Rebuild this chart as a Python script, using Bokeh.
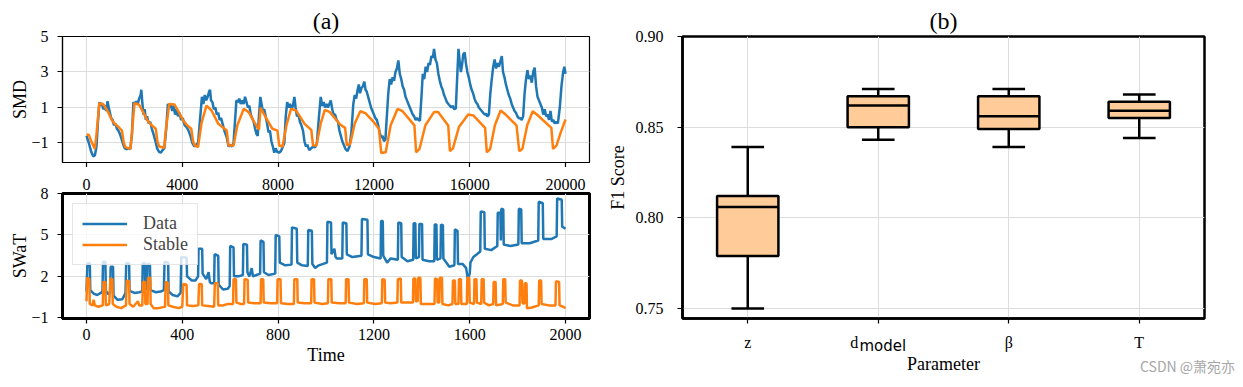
from bokeh.plotting import figure
from bokeh.layouts import row, column
from bokeh.models import FixedTicker, Range1d, LinearAxis
from bokeh.embed import file_html
from bokeh.resources import INLINE

SERIF = "Liberation Serif"
BLUE = "#1f77b4"
ORANGE = "#ff7f0e"

# ---------------- data ----------------
smd_data_pts = [
    (0, -0.6), (100, -1.0), (200, -1.5), (280, -1.75), (350, -1.7), (420, -1.2), (480, 0.2), (540, 1.3),
    (600, 1.1), (650, 1.25), (700, 0.9), (760, 1.1), (820, 0.8), (880, 1.35), (930, 1.0), (980, 0.7),
    (1030, 0.4), (1090, 0.3), (1150, 0.0), (1210, 0.1), (1270, -0.2), (1330, -0.3), (1400, -0.5),
    (1470, -0.8), (1540, -1.1), (1600, -1.3), (1680, -1.35), (1760, -1.3), (1830, -1.35), (1900, -0.5),
    (1960, 1.3), (2020, 1.2), (2080, 1.35), (2140, 1.2), (2200, 1.5), (2260, 1.7), (2290, 2.0), (2330, 1.3),
    (2380, 0.6), (2430, 0.9), (2480, 0.3), (2530, 0.5), (2600, 0.1), (2660, 0.2), (2730, -0.2), (2800, -0.5),
    (2880, -0.9), (2950, -1.3), (3030, -1.5), (3100, -1.55), (3180, -1.4), (3250, -1.3), (3330, -0.2),
    (3400, 1.2), (3460, 1.0), (3520, 1.15), (3580, 0.8), (3640, 1.1), (3700, 0.6), (3760, 0.9), (3820, 0.5),
    (3880, 0.7), (3950, 0.3), (4020, 0.4), (4100, 0.0), (4180, -0.1), (4260, -0.3), (4340, -0.6),
    (4420, -1.0), (4500, -1.2), (4580, -1.1), (4660, -1.0), (4740, 0.3), (4820, 1.6), (4880, 1.2),
    (4940, 1.7), (5000, 1.4), (5060, 1.6), (5120, 1.9), (5160, 2.0), (5200, 1.4), (5260, 1.3), (5320, 0.9),
    (5380, 1.0), (5440, 0.6), (5500, 0.7), (5560, 0.3), (5620, 0.4), (5700, 0.0), (5780, -0.4), (5860, -0.7),
    (5930, -1.2), (6000, -1.1), (6080, -1.2), (6140, -1.0), (6200, 0.2), (6260, 1.4), (6320, 1.3),
    (6380, 1.5), (6440, 1.2), (6500, 1.4), (6560, 1.2), (6620, 1.6), (6680, 1.3), (6740, 1.0), (6800, 1.1),
    (6860, 0.6), (6920, 0.4), (6980, 0.2), (7040, -0.2), (7100, -0.5), (7150, -0.6), (7200, 0.5),
    (7260, 1.6), (7310, 1.2), (7360, 0.8), (7420, 0.9), (7480, 0.5), (7540, 0.1), (7600, -0.4),
    (7660, -0.3), (7720, -0.9), (7780, -1.2), (7840, -1.55), (7900, -1.3), (7960, -1.5), (8040, -1.55),
    (8120, -1.45), (8200, -1.2), (8260, -1.0), (8320, 0.5), (8380, 1.3), (8440, 1.0), (8500, 1.2),
    (8560, 0.9), (8620, 1.1), (8680, 1.6), (8730, 1.0), (8790, 0.5), (8850, 0.6), (8910, 0.2), (8970, 0.0),
    (9040, -0.3), (9100, -0.9), (9160, -1.2), (9220, -1.1), (9300, -1.4), (9380, -1.3), (9460, -1.2),
    (9540, -1.25), (9620, -1.0), (9700, 0.4), (9780, 1.6), (9840, 1.1), (9900, 1.3), (9960, 1.0),
    (10020, 1.2), (10080, 1.0), (10140, 1.2), (10200, 1.4), (10260, 0.9), (10320, 0.6), (10380, 0.6),
    (10440, 0.3), (10500, 0.2), (10560, -0.3), (10620, -0.6), (10680, -0.9), (10740, -1.1), (10820, -1.35),
    (10900, -1.45), (10980, -1.2), (11060, -0.4), (11140, 1.2), (11200, 1.7), (11260, 1.5), (11320, 2.0),
    (11370, 2.3), (11420, 1.8), (11480, 2.1), (11540, 2.2), (11600, 2.45), (11650, 2.0), (11700, 1.9),
    (11760, 1.6), (11820, 1.3), (11880, 1.0), (11940, 0.8), (12000, 0.6), (12060, 0.4), (12120, 0.3),
    (12180, 0.0), (12240, -0.4), (12300, -0.7), (12360, -0.6), (12420, -0.9), (12480, -0.8), (12540, 0.5),
    (12600, 1.8), (12660, 2.6), (12720, 2.3), (12780, 2.7), (12840, 2.5), (12900, 3.0), (12960, 3.2),
    (13020, 3.65), (13080, 2.9), (13140, 2.6), (13200, 2.2), (13260, 2.0), (13320, 1.6), (13380, 1.4),
    (13440, 1.2), (13500, 1.0), (13560, 0.8), (13620, 0.6), (13680, 0.5), (13740, 0.3), (13800, 0.4),
    (13860, 0.3), (13920, 0.25), (13980, 1.5), (14040, 2.9), (14100, 2.6), (14160, 3.3), (14220, 3.0),
    (14280, 3.5), (14340, 3.4), (14400, 3.9), (14460, 3.8), (14510, 4.3), (14570, 3.7), (14630, 3.5),
    (14690, 2.9), (14750, 2.5), (14810, 2.2), (14870, 2.0), (14930, 1.7), (14990, 1.5), (15050, 1.3),
    (15110, 1.2), (15170, 1.1), (15230, 1.0), (15290, 1.1), (15350, 0.9), (15420, 0.95), (15470, 2.5),
    (15530, 4.3), (15580, 3.6), (15630, 3.0), (15680, 3.4), (15730, 4.0), (15790, 4.1), (15840, 3.5),
    (15900, 3.0), (15960, 2.7), (16020, 2.3), (16080, 2.0), (16140, 1.8), (16200, 1.5), (16260, 1.3),
    (16320, 1.2), (16380, 1.0), (16440, 0.9), (16500, 0.8), (16560, 0.7), (16620, 0.6), (16680, 0.65),
    (16740, 0.5), (16800, 0.6), (16860, 1.8), (16920, 2.6), (16980, 3.3), (17040, 3.7), (17100, 3.2),
    (17160, 3.5), (17220, 3.3), (17280, 3.6), (17340, 3.9), (17390, 3.0), (17450, 2.7), (17510, 2.3),
    (17570, 2.0), (17630, 1.7), (17690, 1.5), (17750, 1.2), (17810, 1.0), (17870, 0.8), (17930, 0.7),
    (17990, 0.5), (18050, 0.4), (18110, 0.4), (18170, 0.3), (18230, 0.5), (18290, 1.8), (18350, 2.6),
    (18410, 3.1), (18470, 2.6), (18530, 2.8), (18590, 2.4), (18650, 3.0), (18710, 3.25), (18770, 2.2),
    (18830, 1.6), (18890, 1.4), (18950, 1.2), (19010, 1.0), (19070, 0.6), (19130, 0.9), (19190, 0.5),
    (19250, 0.6), (19310, 0.3), (19370, 0.8), (19430, 0.2), (19490, 0.3), (19550, 0.1), (19610, 0.2),
    (19680, 0.1), (19760, 1.0), (19830, 2.2), (19900, 3.0), (19950, 3.3), (20000, 2.9),
]

smd_stable_pts = [
    (0, -0.52), (100, -0.55), (200, -0.9), (353, -1.33), (420, -0.5), (536, 1.24), (706, 1.17), (880, 0.8),
    (1059, 0.3), (1200, 0.05), (1341, -0.1), (1480, -0.3), (1560, -1.0), (1623, -1.23), (1835, -1.33),
    (1900, -0.4), (2004, 1.24), (2188, 1.17), (2360, 0.75), (2541, 0.27), (2720, 0.0), (2894, -0.2),
    (2960, -0.9), (3034, -1.2), (3246, -1.27), (3320, -0.2), (3458, 1.2), (3670, 1.17), (3850, 0.75),
    (4023, 0.3), (4200, 0.0), (4376, -0.2), (4450, -0.9), (4517, -1.14), (4658, -1.23), (4800, 0.1),
    (5011, 1.11), (5222, 0.83), (5505, 0.08), (5858, -0.3), (5928, -1.14), (6140, -1.14), (6300, 0.0),
    (6563, 0.92), (6775, 0.74), (6950, 0.3), (7128, -0.1), (7200, -0.25), (7269, 0.98), (7481, 0.45),
    (7763, -0.2), (7974, -0.3), (8045, -1.14), (8186, -1.2), (8350, 0.0), (8539, 0.92), (8751, 0.83),
    (9104, 0.08), (9386, -0.26), (9457, -1.14), (9598, -1.14), (9780, 0.1), (9951, 0.87), (10163, 0.74),
    (10586, 0.04), (10798, -0.15), (10868, -1.14), (11009, -1.05), (11200, 0.1), (11433, 0.79),
    (11645, 0.68), (11998, 0.17), (12209, -0.2), (12308, -1.57), (12491, -1.52), (12700, 0.0),
    (12985, 0.92), (13197, 0.79), (13691, -0.01), (13761, -1.52), (13900, -1.35), (14150, 0.0),
    (14509, 0.74), (14679, 0.74), (15102, -0.01), (15173, -1.46), (15300, -1.3), (15550, -0.1),
    (15935, 0.6), (16147, 0.55), (16641, -0.15), (16712, -1.52), (16850, -1.35), (17050, 0.0),
    (17290, 0.83), (17500, 0.6), (17953, -0.01), (18066, -1.46), (18200, -1.33), (18400, 0.0),
    (18631, 0.79), (18850, 0.55), (19407, -0.15), (19478, -1.33), (19620, -1.15), (19800, -0.4),
    (20000, 0.32),
]

swat_data_pts = [
    (0, 0.9), (4, 2.95), (14, 2.95), (16, 1.0), (30, 0.75), (45, 0.65), (60, 0.8), (67, 0.9), (69, 3.05),
    (79, 3.05), (81, 0.95), (92, 0.7), (99, 0.8), (101, 2.7), (111, 2.7), (113, 0.6), (130, 0.3), (150, 0.35),
    (163, 0.8), (166, 2.95), (178, 2.95), (180, 0.95), (200, 0.8), (220, 0.85), (233, 0.9), (235, 2.95),
    (244, 2.95), (246, 1.0), (253, 1.2), (255, 2.9), (265, 2.9), (267, 1.0), (290, 0.85), (310, 0.9),
    (323, 1.0), (326, 3.05), (341, 3.0), (343, 0.9), (360, 0.65), (380, 0.55), (393, 0.8), (396, 3.4),
    (418, 3.35), (420, 2.0), (440, 1.7), (455, 1.7), (466, 2.0), (468, 4.0), (483, 4.0), (485, 2.2),
    (500, 1.8), (510, 2.3), (515, 1.6), (520, 1.5), (533, 1.5), (535, 3.6), (550, 3.5), (552, 1.4),
    (570, 1.05), (590, 1.1), (598, 1.3), (600, 4.2), (614, 4.1), (616, 2.0), (635, 2.0), (653, 2.1),
    (655, 4.35), (670, 4.3), (672, 2.3), (680, 2.0), (690, 2.6), (695, 2.0), (710, 2.1), (725, 2.2),
    (727, 4.6), (739, 4.5), (741, 2.3), (760, 2.1), (788, 2.2), (790, 5.0), (805, 4.9), (807, 3.0),
    (830, 2.8), (856, 2.85), (858, 5.55), (878, 5.45), (880, 3.0), (900, 2.8), (924, 2.75), (926, 5.35),
    (941, 5.3), (943, 2.9), (955, 2.6), (970, 2.8), (1004, 3.0), (1006, 5.95), (1021, 5.9), (1023, 3.6),
    (1035, 4.0), (1040, 3.4), (1045, 3.3), (1068, 3.3), (1070, 5.9), (1085, 5.85), (1087, 3.6),
    (1110, 3.4), (1148, 3.5), (1150, 6.15), (1173, 6.1), (1175, 3.6), (1200, 3.4), (1228, 3.3),
    (1230, 6.0), (1237, 6.0), (1239, 3.5), (1255, 3.0), (1270, 3.3), (1300, 3.2), (1302, 5.9),
    (1314, 5.85), (1316, 3.4), (1340, 3.1), (1364, 3.2), (1366, 5.85), (1373, 5.85), (1375, 3.3),
    (1388, 3.4), (1390, 5.8), (1401, 5.8), (1403, 3.2), (1430, 3.1), (1452, 3.1), (1454, 5.75),
    (1461, 5.75), (1463, 3.2), (1478, 3.3), (1480, 5.75), (1488, 5.7), (1490, 3.3), (1515, 2.7),
    (1536, 2.8), (1538, 5.4), (1549, 5.3), (1551, 2.9), (1570, 2.9), (1585, 2.6), (1592, 1.8),
    (1600, 2.2), (1603, 3.0), (1615, 3.4), (1630, 3.6), (1644, 3.8), (1646, 6.7), (1661, 6.65),
    (1663, 4.0), (1690, 3.9), (1715, 4.2), (1717, 6.6), (1728, 6.6), (1730, 4.6), (1732, 6.9),
    (1740, 6.85), (1742, 4.3), (1770, 4.2), (1803, 4.3), (1805, 6.9), (1815, 6.85), (1817, 4.4),
    (1850, 4.4), (1886, 4.6), (1888, 7.4), (1905, 7.3), (1907, 4.7), (1940, 4.7), (1963, 4.9),
    (1965, 7.65), (1984, 7.55), (1986, 5.6), (2000, 5.45),
]

swat_stable_pts = [
    (0, 0.2), (3, 1.9), (12, 1.8), (14, 0.0), (25, -0.1), (30, 0.3), (35, -0.1), (50, -0.2), (68, -0.1),
    (71, 1.6), (79, 1.6), (81, -0.1), (95, 0.0), (100, 1.85), (108, 1.8), (110, 0.0), (125, -0.2),
    (145, -0.3), (165, -0.1), (168, 1.7), (178, 1.65), (180, 0.0), (195, -0.2), (215, 0.2), (220, -0.1),
    (233, -0.1), (236, 1.6), (244, 1.6), (246, 0.0), (255, 0.0), (257, 1.9), (266, 1.9), (268, 0.0),
    (280, -0.3), (300, -0.3), (328, -0.2), (331, 1.6), (340, 1.55), (342, -0.1), (360, -0.2), (385, -0.3),
    (400, -0.2), (404, 1.45), (418, 1.4), (420, -0.1), (445, -0.15), (467, -0.1), (470, 1.45), (481, 1.45),
    (483, -0.1), (510, -0.15), (533, -0.2), (536, 1.5), (548, 1.5), (550, -0.1), (570, -0.1), (590, 0.0),
    (612, 0.0), (614, 1.8), (624, 1.8), (626, 0.1), (645, 0.0), (658, 0.0), (660, 1.8), (673, 1.75),
    (675, 0.1), (700, 0.05), (727, 0.05), (729, 1.8), (738, 1.8), (740, 0.1), (770, 0.05), (796, 0.05),
    (798, 1.8), (810, 1.8), (812, 0.05), (840, 0.0), (866, 0.0), (868, 1.8), (880, 1.8), (882, 0.1),
    (910, 0.05), (938, 0.05), (940, 1.8), (950, 1.8), (952, 0.1), (985, 0.0), (1008, 0.05), (1010, 1.8),
    (1022, 1.8), (1024, 0.1), (1055, 0.05), (1082, 0.05), (1084, 1.8), (1094, 1.8), (1096, 0.1),
    (1130, 0.0), (1158, 0.05), (1160, 1.8), (1170, 1.8), (1172, 0.1), (1205, 0.0), (1233, 0.05),
    (1235, 1.8), (1245, 1.75), (1247, 0.1), (1270, 0.05), (1298, 0.1), (1300, 1.8), (1312, 1.85),
    (1314, 0.1), (1340, 0.1), (1363, 0.1), (1365, 1.85), (1373, 1.85), (1375, 0.2), (1383, 0.2),
    (1385, 1.9), (1394, 1.9), (1396, 0.0), (1425, 0.0), (1453, 0.0), (1455, 1.85), (1464, 1.8),
    (1466, 0.1), (1473, 0.1), (1475, 1.9), (1484, 1.9), (1486, 0.0), (1510, -0.1), (1528, 0.0),
    (1530, 1.7), (1538, 1.7), (1540, 0.0), (1553, 0.0), (1555, 1.8), (1563, 1.8), (1565, 0.0),
    (1588, 0.0), (1590, 1.9), (1598, 1.9), (1600, 0.1), (1618, 0.0), (1620, 1.8), (1628, 1.8),
    (1630, 0.1), (1648, 0.0), (1650, 1.8), (1658, 1.8), (1660, 0.1), (1680, -0.1), (1698, 0.0),
    (1700, 1.6), (1708, 1.6), (1710, -0.1), (1738, 0.0), (1740, 1.8), (1748, 1.8), (1750, 0.1),
    (1780, -0.1), (1808, -0.1), (1810, 1.7), (1818, 1.7), (1820, 0.1), (1828, 0.0), (1830, 1.5),
    (1837, 1.5), (1839, -0.3), (1860, -0.25), (1888, -0.1), (1890, 1.7), (1898, 1.7), (1900, 0.0),
    (1930, -0.1), (1958, -0.1), (1960, 1.65), (1973, 1.6), (1975, -0.1), (1990, -0.2), (2000, -0.3),
]

smd_xticks = [0, 4000, 8000, 12000, 16000, 20000]
smd_yticks = [-1, 1, 3, 5]
swat_xticks = [0, 400, 800, 1200, 1600, 2000]
swat_yticks = [-1, 2, 5, 8]

params = ["z", "d", "β", "T"]
param_sub = "model"
param_pos = [1, 2, 3, 4]
whisker_low = [0.750, 0.843, 0.839, 0.844]
q1 = [0.779, 0.850, 0.849, 0.855]
median = [0.806, 0.862, 0.856, 0.859]
q3 = [0.812, 0.867, 0.867, 0.864]
whisker_high = [0.839, 0.871, 0.871, 0.868]
f1_ticks = [0.75, 0.80, 0.85, 0.90]
watermark = "CSDN @萧宛亦"


def unzip(pts):
    return [a for a, _ in pts], [b for _, b in pts]


def style_axis(ax, frame_w):
    ax.axis_line_color = "black"
    ax.axis_line_width = frame_w
    ax.major_tick_line_color = "black"
    ax.major_tick_line_width = 1.2
    ax.major_tick_out = 5
    ax.major_tick_in = 0
    ax.minor_tick_line_color = None
    ax.major_label_text_font = SERIF
    ax.major_label_text_font_size = "16px"
    ax.major_label_text_color = "black"
    ax.axis_label_text_font = SERIF
    ax.axis_label_text_font_size = "18px"
    ax.axis_label_text_font_style = "normal"
    ax.axis_label_text_color = "black"


def style(p, frame_w):
    p.outline_line_color = "black"
    p.outline_line_width = frame_w
    p.outline_line_alpha = 1.0
    p.background_fill_color = "white"
    p.border_fill_color = "white"
    for ax in p.axis:
        style_axis(ax, frame_w)
    p.grid.grid_line_color = "#dddddd"
    p.grid.grid_line_width = 1
    if p.title is not None and p.title.text:
        p.title.align = "center"
        p.title.text_font = SERIF
        p.title.text_font_size = "24px"
        p.title.text_font_style = "normal"
        p.title.text_color = "black"
        p.title.standoff = 6


def bare_axis(ax):
    ax.axis_line_color = None
    ax.major_tick_line_color = None
    ax.minor_tick_line_color = None
    ax.major_tick_out = 0
    ax.major_tick_in = 0


# ---------------- SMD ----------------
p1 = figure(width=604, height=167, x_range=Range1d(-1000, 21000), y_range=Range1d(-2.1, 5.0),
            output_backend="svg", toolbar_location=None, title="(a)",
            min_border_left=62, min_border_right=15, min_border_top=36, min_border_bottom=5)
t, v = unzip(smd_data_pts)
p1.line(t, v, color=BLUE, line_width=2.5)
t, v = unzip(smd_stable_pts)
p1.line(t, v, color=ORANGE, line_width=2.5)
p1.yaxis.ticker = FixedTicker(ticks=smd_yticks)
p1.yaxis.axis_label = "SMD"
style(p1, 1.2)
# tick marks only on the SMD time axis (its labels are shown by the axis above the SWaT panel)
p1.xaxis.ticker = FixedTicker(ticks=[], minor_ticks=smd_xticks)
p1.xaxis.minor_tick_line_color = "black"
p1.xaxis.minor_tick_line_width = 1.2
p1.xaxis.minor_tick_out = 5
p1.xaxis.minor_tick_in = 0
p1.xaxis.major_label_standoff = 0
p1.xgrid.ticker = FixedTicker(ticks=smd_xticks)
p1.yaxis.major_label_standoff = 9
p1.yaxis.axis_label_standoff = -2

# ---------------- SWaT ----------------
p2 = figure(width=604, height=220, x_range=Range1d(-100, 2100), y_range=Range1d(-1.05, 8.0),
            output_backend="svg", toolbar_location=None,
            min_border_left=62, min_border_right=15, min_border_top=26, min_border_bottom=69)
p2.extra_x_ranges = {"smd": Range1d(-1000, 21000)}
t, v = unzip(swat_data_pts)
p2.line(t, v, color=BLUE, line_width=2.5, legend_label="Data")
t, v = unzip(swat_stable_pts)
p2.line(t, v, color=ORANGE, line_width=2.5, legend_label="Stable")
p2.xaxis.ticker = FixedTicker(ticks=swat_xticks)
p2.yaxis.ticker = FixedTicker(ticks=swat_yticks)
p2.xaxis.axis_label = "Time"
p2.yaxis.axis_label = "SWaT"
style(p2, 3)
p2.xaxis.major_label_standoff = 5
p2.xaxis.axis_label_standoff = 2
p2.yaxis.major_label_standoff = 9
p2.yaxis.axis_label_standoff = -2
smd_lab_axis = LinearAxis(x_range_name="smd", ticker=FixedTicker(ticks=smd_xticks))
style_axis(smd_lab_axis, 1)
bare_axis(smd_lab_axis)
smd_lab_axis.major_label_standoff = 4
p2.add_layout(smd_lab_axis, "above")

lg = p2.legend[0]
lg.location = "top_left"
lg.margin = 10
lg.padding = 9
lg.spacing = 0
lg.label_text_font = SERIF
lg.label_text_font_size = "18px"
lg.label_height = 17
lg.glyph_height = 17
lg.glyph_width = 45
lg.label_standoff = 16
lg.border_line_color = "#cccccc"
lg.border_line_width = 1
lg.background_fill_alpha = 0.8

# ---------------- box plot ----------------
p3 = figure(width=639, height=387, x_range=Range1d(0.5, 4.5), y_range=Range1d(0.7445, 0.90),
            output_backend="svg", toolbar_location=None, title="(b)",
            min_border_left=74, min_border_right=39, min_border_top=36, min_border_bottom=69)
p3.segment(x0=param_pos, y0=q3, x1=param_pos, y1=whisker_high, line_color="black", line_width=2.5)
p3.segment(x0=param_pos, y0=q1, x1=param_pos, y1=whisker_low, line_color="black", line_width=2.5)
cap_l = [x - 0.125 for x in param_pos]
cap_r = [x + 0.125 for x in param_pos]
p3.segment(x0=cap_l, y0=whisker_high, x1=cap_r, y1=whisker_high, line_color="black", line_width=2.5)
p3.segment(x0=cap_l, y0=whisker_low, x1=cap_r, y1=whisker_low, line_color="black", line_width=2.5)
p3.vbar(x=param_pos, top=q3, bottom=q1, width=0.47, fill_color="#ffcc99", line_color="black",
        line_width=2.5)
med_l = [x - 0.235 for x in param_pos]
med_r = [x + 0.235 for x in param_pos]
p3.segment(x0=med_l, y0=median, x1=med_r, y1=median, line_color="black", line_width=2.5)
style(p3, 2.5)
xa = p3.xaxis[0]
xa.ticker = FixedTicker(ticks=param_pos)
xa.major_label_overrides = {1: params[0], 2: params[1] + "\u00a0" * 12, 3: params[2], 4: params[3]}
xa.major_label_standoff = 10
ya = p3.yaxis[0]
ya.ticker = FixedTicker(ticks=f1_ticks)
ya.major_label_overrides = {tk: "%.2f" % tk for tk in f1_ticks}
ya.axis_label = "F1 Score"
ya.major_label_standoff = 14
ya.axis_label_standoff = 5

# subscript "model" of d_model, and the axis title under it
sub_axis = LinearAxis(ticker=FixedTicker(ticks=[2.035]), major_label_overrides={2.035: param_sub})
style_axis(sub_axis, 1)
bare_axis(sub_axis)
sub_axis.major_label_text_font = "DejaVu Sans"
sub_axis.major_label_text_font_size = "15px"
sub_axis.major_label_standoff = -17
sub_axis.axis_label = "Parameter"
sub_axis.axis_label_standoff = -4
p3.add_layout(sub_axis, "below")

# watermark
wm_axis = LinearAxis(ticker=FixedTicker(ticks=[4.37]), major_label_overrides={4.37: watermark})
style_axis(wm_axis, 1)
bare_axis(wm_axis)
wm_axis.major_label_text_font = "Noto Sans CJK SC"
wm_axis.major_label_text_font_size = "14px"
wm_axis.major_label_text_color = "#a6a6a6"
wm_axis.major_label_standoff = -21
p3.add_layout(wm_axis, "below")

layout = row(column(p1, p2), p3)
open("out.html", "w").write(file_html(layout, INLINE))
